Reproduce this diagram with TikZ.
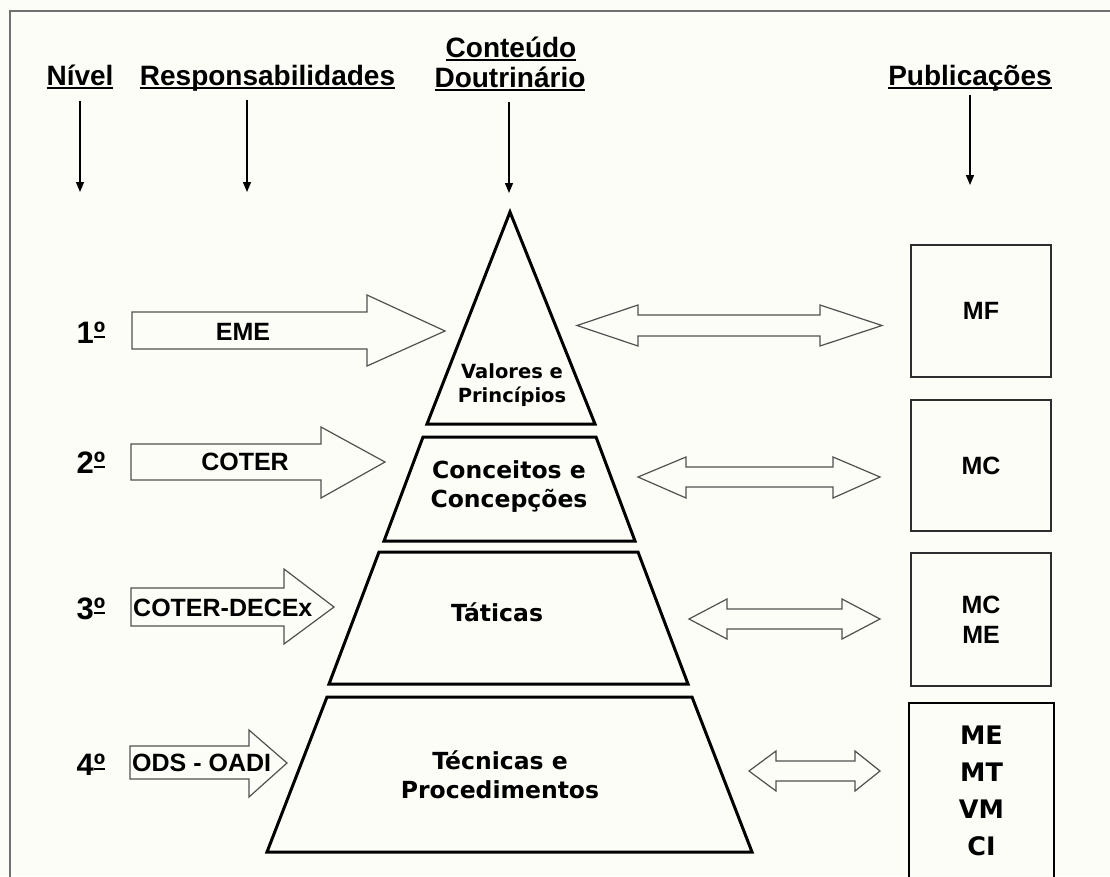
\documentclass[tikz,border=0pt]{standalone}
\usepackage{fontspec}
\setmainfont{Liberation Sans}
\newfontfamily\widefont{DejaVu Sans}
\usetikzlibrary{arrows.meta,calc}
\definecolor{bgc}{RGB}{253,253,248}
\definecolor{framec}{RGB}{112,112,112}
\definecolor{arrc}{RGB}{80,80,80}
\definecolor{boxc}{RGB}{45,45,45}
\newcommand\hdrline[1]{\setbox0\hbox{#1}\rlap{\rule[-4pt]{\wd0}{1.8pt}}\box0}
\newcommand\ordmark{\setbox2\hbox{º}\rlap{\kern0.5pt\rule[5pt]{\dimexpr\wd2-1pt\relax}{1.6pt}}\box2}
\begin{document}
\begin{tikzpicture}[x=1pt,y=-1pt,
  hdr/.style={font=\bfseries\fontsize{28}{30}\selectfont, inner sep=0, anchor=base},
  hdrarrow/.style={line width=1.3pt, -{Triangle[length=10pt,width=8pt]}},
  lvl/.style={font=\bfseries\fontsize{31}{32}\selectfont, inner sep=0, anchor=base},
  blockarrow/.style={draw=arrc, line width=1.2pt, fill=bgc, line join=miter},
  arrlabel/.style={font=\bfseries\fontsize{25}{27}\selectfont, inner sep=0},
  pyr/.style={draw=black, line width=3pt, fill=bgc, line join=miter},
  pyrtext/.style={font=\widefont\bfseries\fontsize{23.5}{29}\selectfont, align=center, inner sep=0},
  pubbox/.style={draw=boxc, line width=1.5pt, fill=bgc, inner sep=0, font=\bfseries\fontsize{25}{30}\selectfont, align=center},
]
\clip (0,0) rectangle (1110,876);
\fill[bgc] (0,0) rectangle (1110,876);
\draw[framec, line width=2pt] (9.5,900) -- (9.5,11) -- (1130,11);

% headers
\node[hdr] (hNivel) at (80,85) {\hdrline{Nível}};
\node[hdr] (hResp) at (267.5,85) {\hdrline{Responsabilidades}};
\node[hdr] (hCont1) at (511,57) {\hdrline{Conteúdo}};
\node[hdr] (hCont2) at (510,87) {\hdrline{Doutrinário}};
\node[hdr] (hPub) at (970,85) {\hdrline{Publicações}};
\coordinate (tNivel) at (80,192);
\coordinate (tResp) at (247,192);
\coordinate (tCont) at (509,193);
\coordinate (tPub) at (970,185);
\draw[hdrarrow] ($(tNivel |- hNivel.south)+(0,12)$) -- (tNivel);
\draw[hdrarrow] ($(tResp |- hResp.south)+(0,9)$) -- (tResp);
\draw[hdrarrow] ($(tCont |- hCont2.south)+(0,11)$) -- (tCont);
\draw[hdrarrow] ($(tPub |- hPub.south)+(0,4)$) -- (tPub);

% level numbers
\node[lvl] (n1) at (91,343) {1\ordmark};
\node[lvl] (n2) at (91,473) {2\ordmark};
\node[lvl] (n3) at (91,619) {3\ordmark};
\node[lvl] (n4) at (91,775) {4\ordmark};

% responsibility arrows
\draw[blockarrow] (132,312) -- (367,312) -- (367,295) -- (445,331) -- (367,366) -- (367,349) -- (132,349) -- cycle;
\draw[blockarrow] (131,444) -- (321,444) -- (321,427) -- (385,462) -- (321,498) -- (321,480) -- (131,480) -- cycle;
\draw[blockarrow] (131,588) -- (284,588) -- (284,569) -- (334,607) -- (284,644) -- (284,626) -- (131,626) -- cycle;
\draw[blockarrow] (130,746) -- (249,746) -- (249,730) -- (287,763) -- (249,797) -- (249,779) -- (130,779) -- cycle;
\node[arrlabel] (rEME) at (243,332) {EME};
\node[arrlabel] (rCOTER) at (245,462) {COTER};
\node[arrlabel, anchor=west] (rDECEx) at (133,608) {COTER-DECEx};
\node[arrlabel, anchor=west] (rODS) at (132,763) {ODS - OADI};

% pyramid
\draw[pyr] (510,212) -- (595,424) -- (427,424) -- cycle;
\draw[pyr] (423,437) -- (596,437) -- (635,541) -- (384,541) -- cycle;
\draw[pyr] (379,552) -- (638,552) -- (688,684) -- (329,684) -- cycle;
\draw[pyr] (327,697) -- (692,697) -- (752,852) -- (267,852) -- cycle;
\node[pyrtext, font=\widefont\bfseries\fontsize{19.5}{24}\selectfont] (tVal) at (512,385) {Valores e\\Princípios};
\node[pyrtext] (tCon) at (509,487) {Conceitos e\\Concepções};
\node[pyrtext] (tTat) at (497,612) {Táticas};
\node[pyrtext] (tTec) at (500,775) {Técnicas e\\Procedimentos};

% double arrows
\draw[blockarrow] (577,325.5) -- (638,305) -- (638,315) -- (820,315) -- (820,305) -- (882,325.5) -- (820,346) -- (820,336) -- (638,336) -- (638,346) -- cycle;
\draw[blockarrow] (638,477) -- (686,457) -- (686,467) -- (833,467) -- (833,457) -- (880,477) -- (833,498) -- (833,487) -- (686,487) -- (686,498) -- cycle;
\draw[blockarrow] (689,619) -- (727,599) -- (727,609) -- (842,609) -- (842,599) -- (880,619) -- (842,639) -- (842,629) -- (727,629) -- (727,639) -- cycle;
\draw[blockarrow] (749,771) -- (776,751) -- (776,761) -- (855,761) -- (855,751) -- (880,771) -- (855,791) -- (855,781) -- (776,781) -- (776,791) -- cycle;

% publication boxes
\node[pubbox, minimum width=140, minimum height=132] (bMF) at (981,311) {MF};
\node[pubbox, minimum width=140, minimum height=131] (bMC) at (981,465.5) {MC};
\node[pubbox, minimum width=140, minimum height=133] (bMCME) at (981,619.5) {MC\\ME};
\node[draw=black, line width=2pt, fill=bgc, minimum width=145, minimum height=190, inner sep=0] (bBot) at (981.5,798) {};
\node[inner sep=0, align=center, font=\widefont\bfseries\fontsize{25.5}{37}\selectfont] (tBot) at (981.5,791) {ME\\MT\\VM\\CI};
\end{tikzpicture}
\end{document}
